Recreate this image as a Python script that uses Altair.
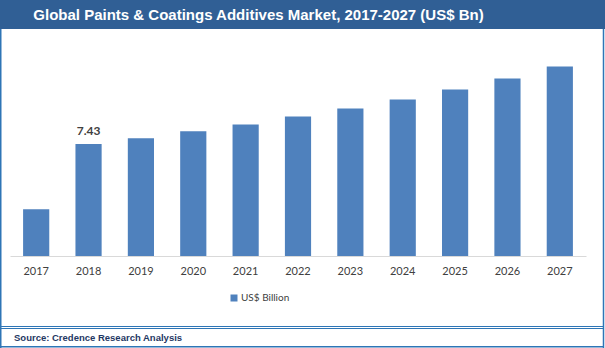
import altair as alt
import pandas as pd

years = ["2017", "2018", "2019", "2020", "2021", "2022", "2023", "2024", "2025", "2026", "2027"]
values = [3.11, 7.43, 7.81, 8.27, 8.73, 9.26, 9.79, 10.39, 11.05, 11.78, 12.57]
series_name = "US$ Billion"
labelled_year = "2018"
title_text = "Global Paints & Coatings Additives Market, 2017-2027 (US$ Bn)"
source_text = "Source: Credence Research Analysis"

df = pd.DataFrame({"year": years, "value": values, "series": [series_name] * len(years)})

PL, PT = 10, 45  # plot origin in page pixels

base = alt.Chart(df)

bars = base.mark_bar(color="#4F81BD").encode(
    x=alt.X("year:N", sort=years,
            scale=alt.Scale(paddingInner=0.5, paddingOuter=0.25),
            axis=alt.Axis(title=None, labelAngle=0, tickSize=0, domainColor="#D9D9D9",
                          domainWidth=1, labelFont="Lato", labelFontSize=11,
                          labelColor="#404040", labelPadding=9)),
    y=alt.Y("value:Q", scale=alt.Scale(domain=[0, 14], nice=False), axis=None),
    color=alt.Color("series:N",
                    scale=alt.Scale(domain=[series_name], range=["#4F81BD"]),
                    legend=alt.Legend(title=None, orient="none", legendX=219, legendY=248,
                                      symbolType="square", symbolSize=49,
                                      labelFont="Lato", labelFontSize=10,
                                      labelColor="#404040", padding=0, labelOffset=2,
                                      symbolStrokeWidth=0)),
)

label = base.transform_filter(alt.datum.year == labelled_year).mark_text(
    dy=-6, fontWeight="bold", fontSize=12, font="Lato", color="#404040", baseline="bottom"
).encode(
    x=alt.X("year:N", sort=years),
    y=alt.Y("value:Q"),
    text=alt.Text("value:Q", format=".2f"),
)

one = alt.Chart(pd.DataFrame({"k": [0]}))

title_bar = one.mark_rect(color="#305F95").encode(
    x=alt.value(0 - PL), x2=alt.value(605 - PL),
    y=alt.value(0 - PT), y2=alt.value(29 - PT),
)
title = one.mark_text(text=title_text, color="white", fontWeight="bold", fontSize=15,
                      font="Liberation Sans", align="center", baseline="middle").encode(
    x=alt.value(258.5 - PL), y=alt.value(15 - PT)
)

border_color = "#2E75B6"
left_border = one.mark_rule(color=border_color, strokeWidth=1.5).encode(
    x=alt.value(0.75 - PL), y=alt.value(29 - PT), y2=alt.value(348 - PT))
right_border = one.mark_rule(color=border_color, strokeWidth=1.5).encode(
    x=alt.value(603.5 - PL), y=alt.value(29 - PT), y2=alt.value(348 - PT))
bottom_border = one.mark_rule(color=border_color, strokeWidth=1.5).encode(
    x=alt.value(0 - PL), x2=alt.value(604 - PL), y=alt.value(346.8 - PT))
sep1 = one.mark_rule(color=border_color, strokeWidth=1).encode(
    x=alt.value(0 - PL), x2=alt.value(604 - PL), y=alt.value(326.5 - PT))
sep2 = one.mark_rule(color=border_color, strokeWidth=1).encode(
    x=alt.value(0 - PL), x2=alt.value(604 - PL), y=alt.value(328.5 - PT))

source = one.mark_text(text=source_text, color="#1F3864", fontWeight="bold", fontSize=9.5,
                       font="Liberation Sans", align="left", baseline="middle").encode(
    x=alt.value(14 - PL), y=alt.value(337.5 - PT)
)

chart = alt.layer(
    title_bar, title, bars, label, left_border, right_border, bottom_border, sep1, sep2, source
).properties(
    width=576, height=211,
    padding={"left": PL, "top": PT, "right": 605 - PL - 576, "bottom": 348 - PT - 211},
    autosize=alt.AutoSizeParams(type="none"),
    background="white",
).configure_view(stroke=None)

chart.save("out.html", embed_options={"renderer": "svg", "actions": False})
